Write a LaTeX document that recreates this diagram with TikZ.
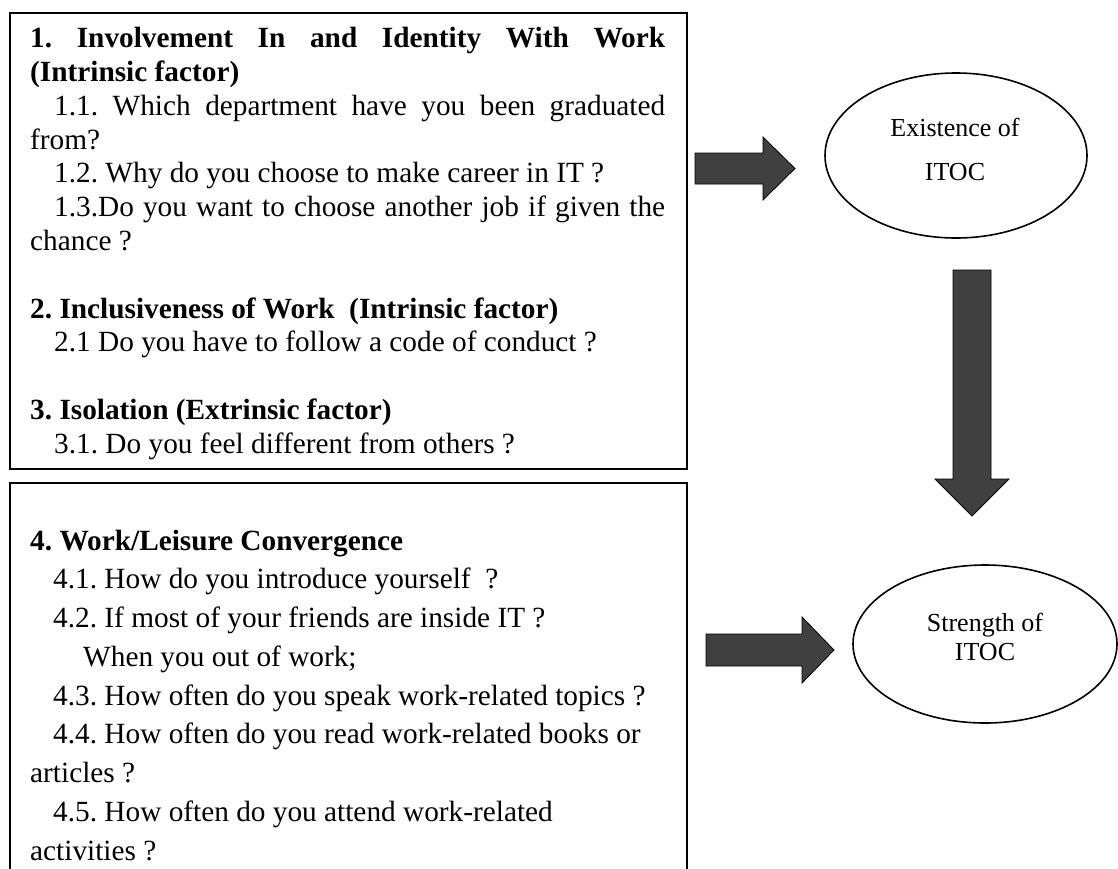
\documentclass[tikz,border=0pt]{standalone}
\usepackage{fontspec}
\setmainfont{Liberation Serif}
\usetikzlibrary{shapes.geometric}
\frenchspacing
\definecolor{arrowgray}{RGB}{64,64,64}
\tikzset{
  frame/.style={draw=black, line width=1.9pt, inner sep=0pt, anchor=north west},
  ln/.style={anchor=base west, inner sep=0pt, font=\fontsize{29.3}{33.8}\selectfont},
  hd/.style={anchor=base west, inner sep=0pt, font=\fontsize{29.3}{33.8}\selectfont\bfseries},
  blk/.style={fill=arrowgray, draw=black, line width=0.8pt, line join=miter},
  oval/.style={draw=black, ellipse, line width=1.6pt, inner sep=0pt},
  otext/.style={anchor=base, inner sep=0pt, font=\fontsize{26}{30}\selectfont}
}
\begin{document}
\begin{tikzpicture}[x=1pt,y=-1pt]
\useasboundingbox (0,0) rectangle (1118,868);
% boxes
\node[frame, minimum width=677pt, minimum height=456pt] (b1) at (9,12) {};
\node[frame, minimum width=677pt, minimum height=420pt] (b2) at (9,482) {};
% box 1 text
\node[hd] (t1) at (30,47.7) {\makebox[635pt][s]{1. Involvement In and Identity With Work}};
\node[hd] (t2) at (30,81.5) {(Intrinsic factor)};
\node[ln] (t3) at (54,115.3) {\makebox[611pt][s]{1.1. Which department have you been graduated}};
\node[ln] (t4) at (30,149.1) {from?};
\node[ln] (t5) at (54,182.9) {1.2. Why do you choose to make career in IT ?};
\node[ln] (t6) at (54,216.7) {\makebox[611pt][s]{1.3.Do you want to choose another job if given the}};
\node[ln] (t7) at (30,250.5) {chance ?};
\node[hd] (t9) at (30,318.1) {2. Inclusiveness of Work\ \ (Intrinsic factor)};
\node[ln] (t10) at (54,351.9) {2.1 Do you have to follow a code of conduct ?};
\node[hd] (t12) at (30,419.5) {3. Isolation (Extrinsic factor)};
\node[ln] (t13) at (54,453.3) {3.1. Do you feel different from others ?};
% box 2 text
\node[hd] (u1) at (30,550) {4. Work/Leisure Convergence};
\node[ln] (u2) at (53,588.75) {4.1. How do you introduce yourself\ \ ?};
\node[ln] (u3) at (53,627.5) {4.2. If most of your friends are inside IT ?};
\node[ln] (u4) at (83,666.25) {When you out of work;};
\node[ln] (u5) at (53,705) {4.3. How often do you speak work-related topics ?};
\node[ln] (u6) at (53,743.75) {4.4. How often do you read work-related books or};
\node[ln] (u7) at (30,782.5) {articles ?};
\node[ln] (u8) at (53,821.25) {4.5. How often do you attend work-related};
\node[ln] (u9) at (30,860) {activities ?};
% ellipses
\node[oval, minimum width=262pt, minimum height=165pt] (e1) at (956,155.5) {};
\node[otext] (e1a) at (955,136) {Existence of};
\node[otext] (e1b) at (955,180) {ITOC};
\node[oval, minimum width=264pt, minimum height=158pt] (e2) at (985,644) {};
\node[otext] (e2a) at (985,631) {Strength of};
\node[otext] (e2b) at (985,660) {ITOC};
% block arrows
\draw[blk] (695,153) -- (763,153) -- (763,137) -- (795,168.5) -- (763,200) -- (763,184) -- (695,184) -- cycle;
\draw[blk] (953,270) -- (991,270) -- (991,479) -- (1009,479) -- (972,516) -- (935,479) -- (953,479) -- cycle;
\draw[blk] (706,634) -- (802,634) -- (802,617) -- (834,650) -- (802,683) -- (802,666) -- (706,666) -- cycle;
\end{tikzpicture}
\end{document}
